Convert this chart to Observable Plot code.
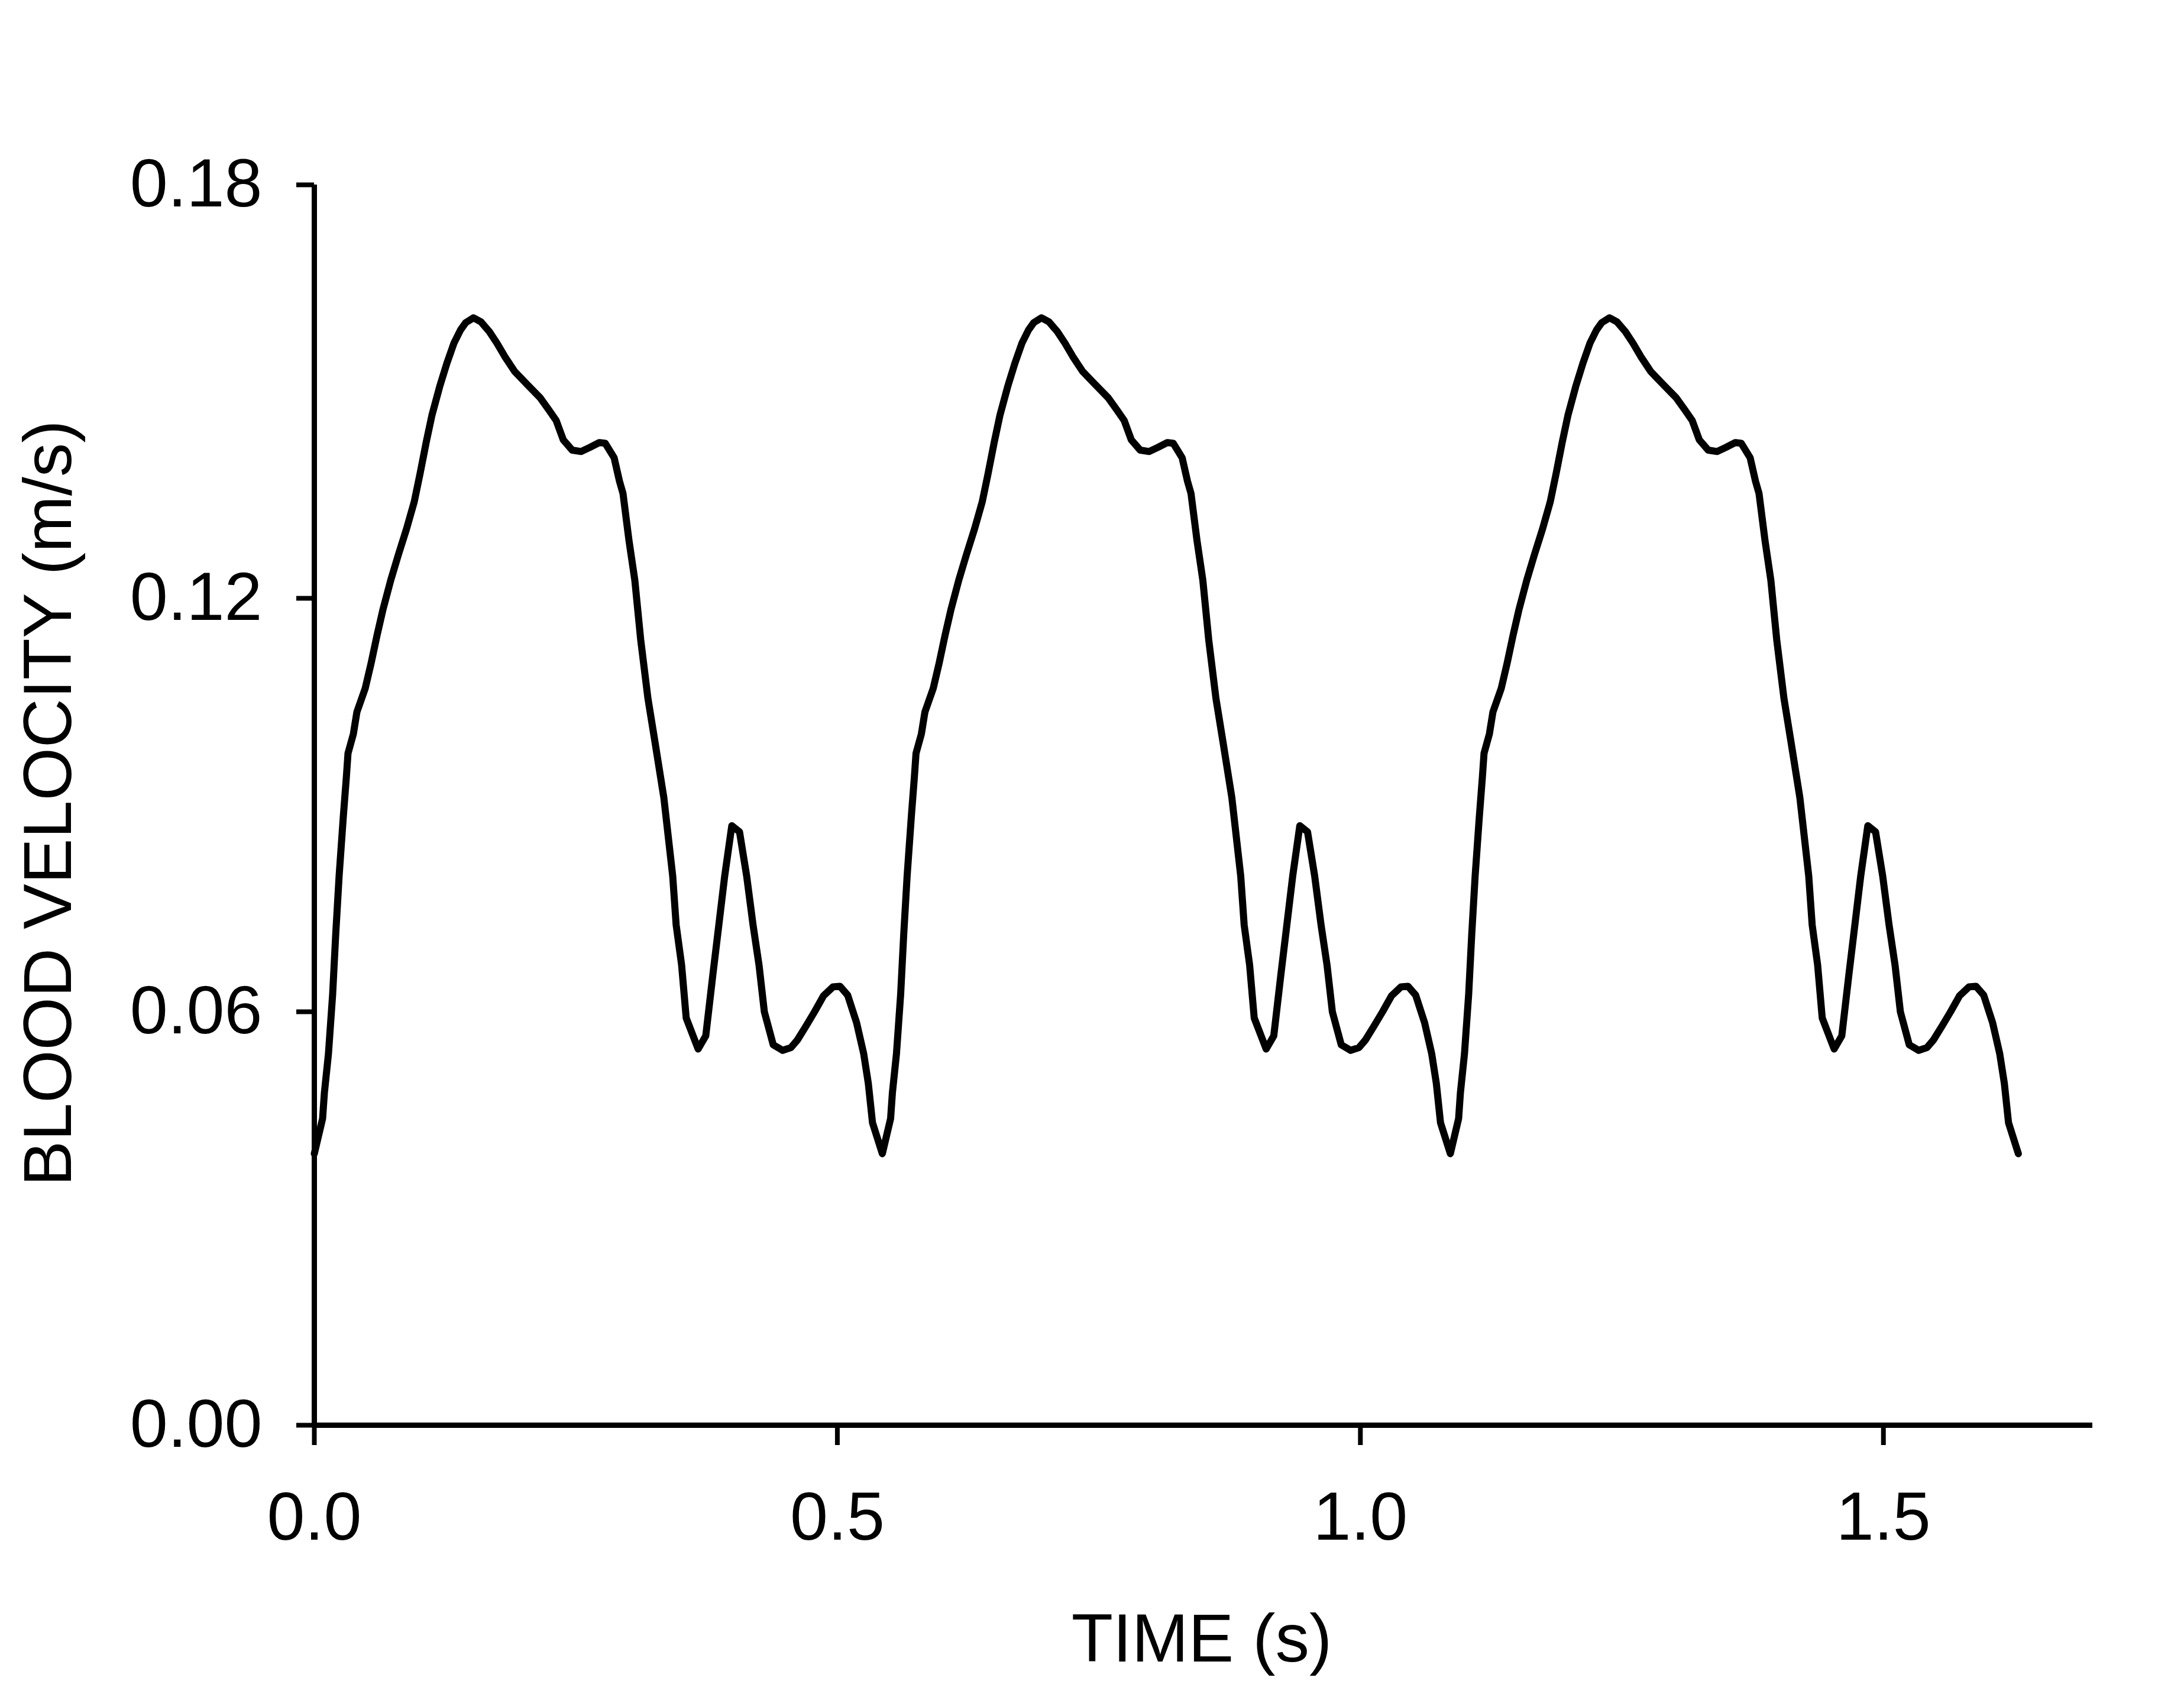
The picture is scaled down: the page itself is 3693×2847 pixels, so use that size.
<!DOCTYPE html>
<html>
<head>
<meta charset="utf-8">
<script src="https://cdn.jsdelivr.net/npm/d3@7"></script>
<script src="https://cdn.jsdelivr.net/npm/@observablehq/plot@0.6"></script>
<style>
  html, body { margin: 0; padding: 0; background: #fff; }
  svg { display: block; }
</style>
</head>
<body>
<div id="chart"></div>
<script>
// One cardiac cycle (time offset within the cycle, s)
const cycleTime = [
  0.0000, 0.0079, 0.0096, 0.0135, 0.0175, 0.0204, 0.0237, 0.0277, 0.0306, 0.0322,
  0.0373, 0.0407, 0.0486, 0.0543, 0.0599, 0.0655, 0.0730, 0.0803, 0.0882, 0.0955,
  0.1011, 0.1069, 0.1125, 0.1198, 0.1267, 0.1334, 0.1396, 0.1447, 0.1521, 0.1594,
  0.1673, 0.1747, 0.1820, 0.1916, 0.2030, 0.2159, 0.2244, 0.2312, 0.2380, 0.2465,
  0.2550, 0.2634, 0.2725, 0.2781, 0.2866, 0.2917, 0.2951, 0.3008, 0.3064, 0.3120,
  0.3189, 0.3256, 0.3341, 0.3426, 0.3459, 0.3511, 0.3555, 0.3669, 0.3742, 0.3810,
  0.3867, 0.3923, 0.3991, 0.4065, 0.4133, 0.4194, 0.4251, 0.4302, 0.4387, 0.4477,
  0.4556, 0.4618, 0.4703, 0.4782, 0.4867, 0.4957, 0.5025, 0.5099, 0.5184, 0.5252,
  0.5296, 0.5336
];
// Blood velocity (m/s) at those offsets
const cycleVelocity = [
  0.0394, 0.0445, 0.0482, 0.0539, 0.0625, 0.0711, 0.0797, 0.0883, 0.0940, 0.0975,
  0.1003, 0.1035, 0.1069, 0.1106, 0.1146, 0.1183, 0.1226, 0.1263, 0.1301, 0.1340,
  0.1381, 0.1426, 0.1466, 0.1507, 0.1541, 0.1570, 0.1589, 0.1600, 0.1607, 0.1601,
  0.1587, 0.1570, 0.1551, 0.1529, 0.1511, 0.1491, 0.1473, 0.1458, 0.1430, 0.1415,
  0.1413, 0.1419, 0.1426, 0.1425, 0.1404, 0.1370, 0.1352, 0.1284, 0.1226, 0.1140,
  0.1055, 0.0992, 0.0911, 0.0797, 0.0726, 0.0668, 0.0591, 0.0546, 0.0565, 0.0654,
  0.0726, 0.0797, 0.0870, 0.0861, 0.0797, 0.0726, 0.0668, 0.0600, 0.0552, 0.0544,
  0.0548, 0.0559, 0.0580, 0.0600, 0.0623, 0.0636, 0.0637, 0.0624, 0.0584, 0.0539,
  0.0496, 0.0439
];
// Start time of each of the three cycles, and the last sample
const cycleStarts = [0, 0.543, 1.086];
const endTime = 1.629;
const endVelocity = 0.0394;

const xTicks = [0, 0.5, 1.0, 1.5];
const yTicks = [0, 0.06, 0.12, 0.18];
const xDomain = [0, 1.7];
const yDomain = [0, 0.18];
const xLabel = "TIME (s)";
const yLabel = "BLOOD VELOCITY (m/s)";

const data = [];
cycleStarts.forEach(s => cycleTime.forEach((t, i) => data.push({t: s + t, v: cycleVelocity[i]})));
data.push({t: endTime, v: endVelocity});

const chart = Plot.plot({
  width: 3693,
  height: 2847,
  marginLeft: 531,
  marginRight: 155,
  marginTop: 312,
  marginBottom: 438,
  x: {domain: xDomain},
  y: {domain: yDomain},
  style: {fontFamily: "'Liberation Sans', Arial, sans-serif", background: "#fff", color: "#000", overflow: "visible"},
  marks: [
    Plot.axisX(xTicks, {tickSize: 34, tickPadding: 78, strokeWidth: 8, fontSize: 115,
      tickFormat: d3.format(".1f"), label: null, stroke: "#000", fill: "#000"}),
    Plot.axisY(yTicks, {tickSize: 30, tickPadding: 58, strokeWidth: 8, fontSize: 115,
      tickFormat: d3.format(".2f"), label: null, stroke: "#000", fill: "#000"}),
    Plot.ruleX([0], {y1: yDomain[0], y2: yDomain[1], stroke: "#000", strokeWidth: 9}),
    Plot.ruleY([0], {x1: xDomain[0], x2: xDomain[1], stroke: "#000", strokeWidth: 9}),
    Plot.line(data, {x: "t", y: "v", stroke: "#000", strokeWidth: 12,
      strokeLinejoin: "round", strokeLinecap: "round"}),
    Plot.text([xLabel], {frameAnchor: "bottom", lineAnchor: "middle", textAnchor: "middle",
      dy: 363, dx: -3, fontSize: 115, fill: "#000"}),
    Plot.text([yLabel], {frameAnchor: "left", lineAnchor: "middle", textAnchor: "middle",
      rotate: -90, dx: -448, dy: -3, fontSize: 115, fill: "#000"})
  ]
});
document.getElementById("chart").appendChild(chart);
</script>
</body>
</html>
